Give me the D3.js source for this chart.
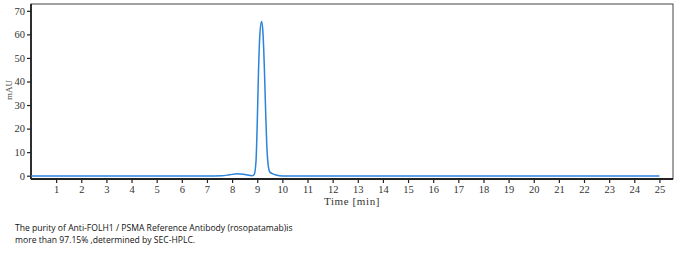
<!DOCTYPE html>
<html>
<head>
<meta charset="utf-8">
<script src="https://cdn.jsdelivr.net/npm/d3@7"></script>
<style>
  body { margin: 0; background: #fff; }
  svg { display: block; }
  .tick text { font-family: "Liberation Serif", serif; font-size: 10.5px; fill: #333; }
</style>
</head>
<body>
<div id="chart"></div>
<script>
// chromatogram points (time in min, signal in mAU)
var times = [0, 3, 6, 7, 7.6, 7.9, 8.2, 8.5, 8.8, 8.88, 8.95, 9.0, 9.05, 9.1, 9.17, 9.22, 9.28, 9.33, 9.38, 9.43, 9.5, 9.6, 9.75, 10, 11, 14, 20, 25];
var mau   = [-0.1, -0.1, -0.1, -0.1, 0, 0.4, 0.8, 0.5, 0, 0.5, 6, 22, 44, 59, 65.5, 62, 47, 29, 13, 5, 1.6, 0.9, 0.3, -0.1, -0.1, -0.1, -0.1, -0.1];
var xTicks = d3.range(1, 26);
var yTicks = [0, 10, 20, 30, 40, 50, 60, 70];
var caption = ["The purity of Anti-FOLH1 / PSMA Reference Antibody (rosopatamab)is",
               "more than 97.15% ,determined by SEC-HPLC."];

var W = 683, H = 254;
var plot = {left: 31, right: 673, top: 4, bottom: 179};

var svg = d3.select("#chart").append("svg")
  .attr("width", W).attr("height", H);

var x = d3.scaleLinear().domain([0, 25.54]).range([plot.left, plot.right]);
var y = d3.scaleLinear().domain([-1.4, 72.9]).range([plot.bottom, plot.top]);

// frame
svg.append("rect")
  .attr("x", plot.left).attr("y", plot.top)
  .attr("width", plot.right - plot.left).attr("height", plot.bottom - plot.top)
  .attr("fill", "none").attr("stroke", "#444").attr("stroke-width", 1);

// axes
var xAxis = svg.append("g")
  .attr("transform", "translate(0," + plot.bottom + ")")
  .call(d3.axisBottom(x).tickValues(xTicks).tickSize(4).tickPadding(3).tickFormat(d3.format("d")));
var yAxis = svg.append("g")
  .attr("transform", "translate(" + plot.left + ",0)")
  .call(d3.axisLeft(y).tickValues(yTicks).tickSize(4).tickPadding(2).tickFormat(d3.format("d")));

[xAxis, yAxis].forEach(function(a) {
  a.select(".domain").attr("stroke", "#222").attr("stroke-width", 1.8);
  a.selectAll(".tick line").attr("stroke", "#222").attr("stroke-width", 1.2);
});
xAxis.select(".domain").attr("d", "M" + plot.left + ",0H" + plot.right);
yAxis.select(".domain").attr("d", "M0," + plot.top + "V" + plot.bottom);

// signal
var line = d3.line()
  .x(function(d, i) { return x(times[i]); })
  .y(function(d) { return y(d); })
  .curve(d3.curveMonotoneX);

svg.append("path")
  .datum(mau)
  .attr("d", line)
  .attr("fill", "none")
  .attr("stroke", "#2b83da")
  .attr("stroke-width", 1.5);

// axis titles
svg.append("text")
  .attr("x", (plot.left + plot.right) / 2).attr("y", 205)
  .attr("text-anchor", "middle")
  .style("font-family", "Liberation Serif, serif").style("font-size", "11px")
  .style("letter-spacing", "0.6px").attr("fill", "#333")
  .text("Time [min]");

svg.append("text")
  .attr("transform", "translate(12,90) rotate(-90)")
  .attr("text-anchor", "middle")
  .style("font-family", "Liberation Serif, serif").style("font-size", "9px")
  .attr("fill", "#444")
  .text("mAU");

// caption
svg.selectAll(".cap")
  .data(caption)
  .enter().append("text")
  .attr("class", "cap")
  .attr("x", 15)
  .attr("y", function(d, i) { return 231 + i * 11.5; })
  .style("font-family", "Open Sans, sans-serif").style("font-size", "8.6px")
  .attr("fill", "#111")
  .text(function(d) { return d; });
</script>
</body>
</html>
